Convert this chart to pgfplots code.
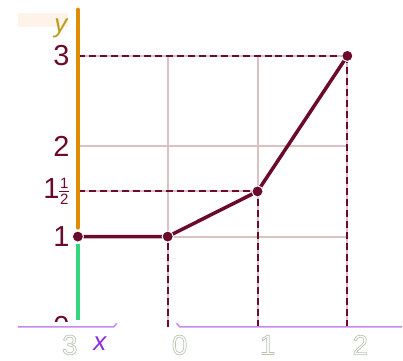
\documentclass[border=0pt]{standalone}
\usepackage{pgfplots}
\pgfplotsset{compat=1.18}
\usepackage{fontspec}
\setmainfont{Liberation Sans}
\definecolor{maroon}{HTML}{6B0A2A}
\definecolor{gridc}{HTML}{D9C2C2}
\definecolor{axorange}{HTML}{E08C00}
\definecolor{axgreen}{HTML}{33D67C}
\definecolor{axpurple}{HTML}{C58AF0}
\definecolor{xlab}{HTML}{8C2CE0}
\definecolor{bottomlab}{HTML}{B8C4B0}
\definecolor{ybg}{HTML}{FDF3E8}
\newcommand{\outl}[1]{\special{pdf:code 1 Tr 0.35 w}#1\special{pdf:code 0 Tr}}
\newcommand{\half}{$\vcenter{\offinterlineskip
  \hbox to 5pt{\hss\fontsize{7.5}{7.5}\selectfont 1\hss}\kern1.2pt
  \hrule height 0.75pt\kern1.2pt
  \hbox to 5pt{\hss\fontsize{7.5}{7.5}\selectfont 2\hss}}$}
\begin{document}
\begin{tikzpicture}
\begin{axis}[scale only axis, width=201.5pt, height=180.5pt,
  xmin=-1.8667, xmax=2.6111, ymin=-0.3702, ymax=3.6188,
  hide axis, clip=false]
\draw[draw=none] (rel axis cs:0,0) rectangle (rel axis cs:1,1);
% y label background
\fill[ybg] (axis cs:-1.667,3.475) rectangle (axis cs:-1.11,3.32);
% grid
\addplot[gridc, line width=1pt] coordinates {(0,0) (0,3)};
\addplot[gridc, line width=1pt] coordinates {(1,0) (1,3)};
\addplot[gridc, line width=1pt] coordinates {(2,0) (2,3)};
\addplot[gridc, line width=1pt] coordinates {(-1,1) (2,1)};
\addplot[gridc, line width=1pt] coordinates {(-1,2) (2,2)};
\addplot[gridc, line width=1pt] coordinates {(-1,3) (2,3)};
\addplot[gridc, line width=1pt] coordinates {(-1,1.5) (1,1.5)};
% dashed guides
\addplot[maroon, line width=1pt, dash pattern=on 3.5pt off 2pt] coordinates {(-1,3) (2,3)};
\addplot[maroon, line width=1pt, dash pattern=on 3.5pt off 2pt] coordinates {(-1,1.5) (1,1.5)};
\addplot[maroon, line width=1pt, dash pattern=on 3.5pt off 2pt] coordinates {(0,0) (0,1)};
\addplot[maroon, line width=1pt, dash pattern=on 3.5pt off 2pt] coordinates {(1,0) (1,1.5)};
\addplot[maroon, line width=1pt, dash pattern=on 3.5pt off 2pt] coordinates {(2,0) (2,3)};
% hidden zero label, mostly covered
\node[anchor=east, text=maroon, font=\fontsize{14.5}{16}\selectfont, inner sep=0pt] at (axis cs:-1.09,0.0) {0};
\fill[white] (axis cs:-1.8,0.05) rectangle (axis cs:-1.03,-0.12);
% x axis (broken)
\addplot[axpurple, line width=0.75pt] coordinates {(-1.667,0) (-0.6,0) (-0.567,0.04)};
\addplot[axpurple, line width=0.75pt] coordinates {(0.1,0.04) (0.133,0) (2.611,0)};
% y axis
\addplot[axorange, line width=2.2pt, line cap=round] coordinates {(-1,3.51) (-1,1.1)};
\addplot[axgreen, line width=2.2pt] coordinates {(-1,0.92) (-1,0.08)};
% main line
\addplot[maroon, line width=1.75pt, mark=*, mark size=2.8pt,
  mark options={draw=white, line width=0.5pt, fill=maroon}]
  coordinates {(-1,1) (0,1) (1,1.5) (2,3)};
% y tick labels
\node[anchor=east, text=maroon, font=\fontsize{14.5}{16}\selectfont, inner sep=0pt] at (axis cs:-1.09,3) {3};
\node[anchor=east, text=maroon, font=\fontsize{14.5}{16}\selectfont, inner sep=0pt] at (axis cs:-1.09,2) {2};
\node[anchor=east, text=maroon, font=\fontsize{14.5}{16}\selectfont, inner sep=0pt] at (axis cs:-1.09,1) {1};
\node[anchor=east, text=maroon, font=\fontsize{14.5}{16}\selectfont, inner sep=0pt] at (axis cs:-1.09,1.5) {1\half};
% axis labels
\node[text=axorange!80!axgreen, font=\fontsize{13}{14}\itshape, inner sep=0pt] at (axis cs:-1.19,3.3) {y};
\node[text=xlab, font=\fontsize{13}{14}\itshape, inner sep=0pt] at (axis cs:-0.756,-0.19) {x};
% bottom tick labels
\node[text=bottomlab, font=\fontsize{14}{15}\selectfont, inner sep=0pt] at (axis cs:-1.09,-0.2) {\outl{3}};
\node[text=bottomlab, font=\fontsize{14}{15}\selectfont, inner sep=0pt] at (axis cs:0.133,-0.2) {\outl{0}};
\node[text=bottomlab, font=\fontsize{14}{15}\selectfont, inner sep=0pt] at (axis cs:1.111,-0.2) {\outl{1}};
\node[text=bottomlab, font=\fontsize{14}{15}\selectfont, inner sep=0pt] at (axis cs:2.144,-0.2) {\outl{2}};
\end{axis}
\end{tikzpicture}
\end{document}
